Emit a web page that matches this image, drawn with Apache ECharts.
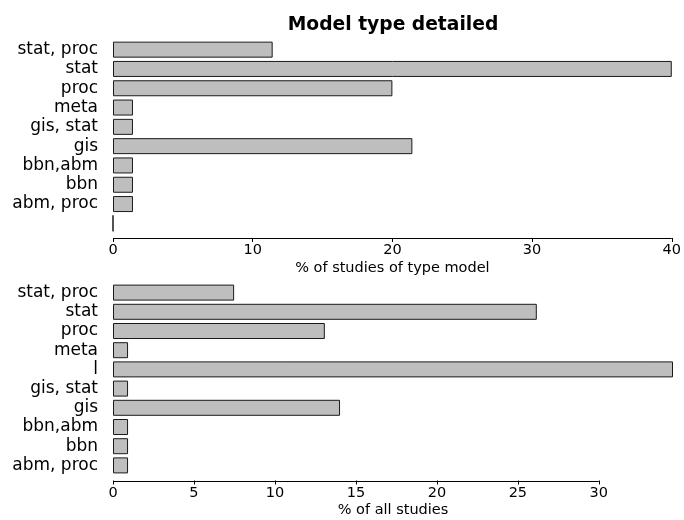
<!DOCTYPE html>
<html>
<head>
<meta charset="utf-8">
<script src="https://cdn.jsdelivr.net/npm/echarts@6/dist/echarts.min.js"></script>
<style>
  html, body { margin: 0; padding: 0; background: #ffffff; }
  #chart { width: 684px; height: 520px; }
</style>
</head>
<body>
<div id="chart"></div>
<script>
// Model types among modelling studies (upper panel), top to bottom
const modelTypes = ['stat, proc', 'stat', 'proc', 'meta', 'gis, stat', 'gis', 'bbn,abm', 'bbn', 'abm, proc', ''];
const pctOfModelStudies = [11.43, 40, 20, 1.43, 1.43, 21.43, 1.43, 1.43, 1.43, 0];

// Same breakdown over all studies (lower panel), top to bottom
const allTypes = ['stat, proc', 'stat', 'proc', 'meta', 'l', 'gis, stat', 'gis', 'bbn,abm', 'bbn', 'abm, proc'];
const pctOfAllStudies = [7.48, 26.17, 13.08, 0.93, 34.58, 0.93, 14.02, 0.93, 0.93, 0.93];

// Tick labels of the two value axes
const upperTicks = [0, 10, 20, 30, 40];
const lowerTicks = [0, 5, 10, 15, 20, 25, 30];

const FONT = 'DejaVu Sans';
const chart = echarts.init(document.getElementById('chart'), null, { renderer: 'canvas' });

const grids = [
  { left: 113, width: 560, top: 40, height: 193 },
  { left: 113, width: 560, top: 283, height: 192 }
];
const axisOffsets = [5, 5.5];

function valueAxis(gridIndex, ticks, name, nameGap) {
  return {
    gridIndex: gridIndex,
    type: 'value',
    min: 0,
    max: 'dataMax',
    offset: axisOffsets[gridIndex],
    axisLine: { show: false },
    axisTick: { show: true, length: 4, inside: false, customValues: ticks,
                lineStyle: { color: '#000', width: 1 } },
    axisLabel: { customValues: ticks, margin: 5, color: '#000',
                 fontFamily: FONT, fontSize: 14.5 },
    splitLine: { show: false },
    name: name,
    nameLocation: 'middle',
    nameGap: nameGap,
    nameTextStyle: { color: '#000', fontFamily: FONT, fontSize: 14.5 }
  };
}

function categoryAxis(gridIndex, cats) {
  return {
    gridIndex: gridIndex,
    type: 'category',
    data: cats,
    inverse: true,
    axisLine: { show: false },
    axisTick: { show: false },
    axisLabel: { interval: 0, margin: 15, color: '#000', fontFamily: FONT, fontSize: 17,
                 align: 'right', padding: [0, 0, 3, 0] },
    splitLine: { show: false }
  };
}

const barStyle = { color: '#bebebe', borderColor: '#1a1a1a', borderWidth: 1 };

chart.setOption({
  animation: false,
  backgroundColor: '#ffffff',
  title: {
    text: 'Model type detailed',
    left: 393,
    top: 16,
    padding: 0,
    textAlign: 'center',
    textStyle: { color: '#000', fontFamily: FONT, fontSize: 18.7, fontWeight: 'bold' }
  },
  grid: grids,
  xAxis: [
    valueAxis(0, upperTicks, '% of studies of type model', 23),
    valueAxis(1, lowerTicks, '% of all studies', 22)
  ],
  yAxis: [
    categoryAxis(0, modelTypes),
    categoryAxis(1, allTypes)
  ],
  series: [
    { type: 'bar', xAxisIndex: 0, yAxisIndex: 0, data: pctOfModelStudies,
      barWidth: 16, itemStyle: barStyle, silent: true },
    { type: 'bar', xAxisIndex: 1, yAxisIndex: 1, data: pctOfAllStudies,
      barWidth: 16, itemStyle: barStyle, silent: true }
  ]
});

// Axis lines run from 0 to the last labelled tick only
const tickSets = [upperTicks, lowerTicks];
const axisLines = tickSets.map(function (ticks, i) {
  const x0 = chart.convertToPixel({ xAxisIndex: i }, ticks[0]);
  const x1 = chart.convertToPixel({ xAxisIndex: i }, ticks[ticks.length - 1]);
  const y = Math.round(grids[i].top + grids[i].height + axisOffsets[i]) + 0.5;
  return {
    type: 'line',
    shape: { x1: x0, y1: y, x2: x1, y2: y },
    style: { stroke: '#000', lineWidth: 1 },
    silent: true
  };
});
chart.setOption({ graphic: axisLines });
</script>
</body>
</html>
